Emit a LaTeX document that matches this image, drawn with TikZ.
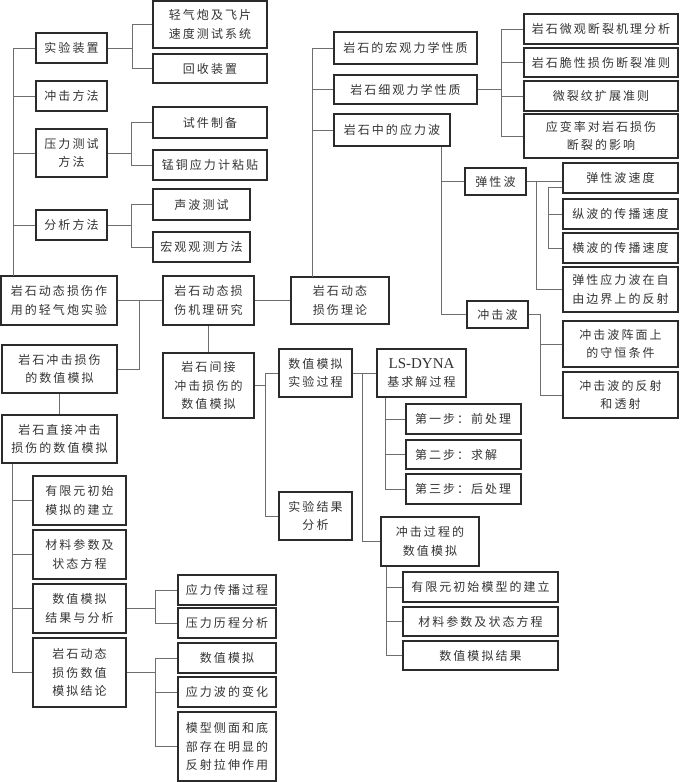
\documentclass[tikz,border=0pt]{standalone}
\usepackage{fontspec}
\setmainfont{Noto Sans CJK SC}[LetterSpace=17]
\newfontfamily\lsfont{Liberation Serif}
\usetikzlibrary{calc}
\definecolor{boxc}{HTML}{2B2B2B}
\definecolor{linec}{HTML}{6E6E6E}
\definecolor{txtc}{HTML}{333333}
\tikzset{
 bx/.style={draw=boxc, line width=1.1pt, inner sep=0pt, align=center, text=txtc,
   font=\fontsize{12}{18.5}\selectfont},
 lbx/.style={bx, text width=97pt, align=left},
 conn/.style={draw=linec, line width=1pt},
}
\begin{document}
\begin{tikzpicture}[x=1pt,y=-1pt]
\useasboundingbox (0,0) rectangle (680,782);
% ---------- left top ----------
\node[bx, minimum width=71pt, minimum height=30pt] (A1) at (71.5,48) {实验装置};
\node[bx, minimum width=114pt, minimum height=47pt] (A1a) at (210,24.5) {轻气炮及飞片\\速度测试系统};
\node[bx, minimum width=114pt, minimum height=29pt] (A1b) at (210,68.5) {回收装置};
\node[bx, minimum width=71pt, minimum height=30pt] (A2) at (71.5,96) {冲击方法};
\node[bx, minimum width=71pt, minimum height=48pt] (A3) at (71.5,153) {压力测试\\方法};
\node[bx, minimum width=114pt, minimum height=31pt] (A3a) at (210,122.5) {试件制备};
\node[bx, minimum width=114pt, minimum height=30pt] (A3b) at (210,165) {锰铜应力计粘贴};
\node[bx, minimum width=71pt, minimum height=30pt] (A4) at (71.5,225) {分析方法};
\node[bx, minimum width=97pt, minimum height=31pt] (A4a) at (201.5,204.5) {声波测试};
\node[bx, minimum width=97pt, minimum height=30pt] (A4b) at (201.5,247) {宏观观测方法};
% ---------- middle row ----------
\node[bx, minimum width=116pt, minimum height=49pt] (L1) at (59,300.5) {岩石动态损伤作\\用的轻气炮实验};
\node[bx, minimum width=91pt, minimum height=49pt] (C) at (208.5,300.5) {岩石动态损\\伤机理研究};
\node[bx, minimum width=98pt, minimum height=47pt] (T) at (340,300.5) {岩石动态\\损伤理论};
\node[bx, minimum width=115pt, minimum height=48pt] (L2) at (59.5,369) {岩石冲击损伤\\的数值模拟};
\node[bx, minimum width=115pt, minimum height=48pt] (L3) at (59.5,439) {岩石直接冲击\\损伤的数值模拟};
\node[bx, minimum width=91pt, minimum height=65pt] (CI) at (208.5,385.5) {岩石间接\\冲击损伤的\\数值模拟};
\node[bx, minimum width=73pt, minimum height=48pt] (N1) at (315.5,373) {数值模拟\\实验过程};
\node[bx, minimum width=73pt, minimum height=48pt] (N2) at (315.5,516) {实验结果\\分析};
\node[bx, minimum width=89pt, minimum height=48pt] (LS) at (421.5,373) {{\lsfont\fontsize{15}{18}\selectfont LS-DYNA}\\基求解过程};
\node[lbx, minimum width=115pt, minimum height=30pt] (S1) at (463.5,419) {第一步：前处理};
\node[lbx, minimum width=115pt, minimum height=29pt] (S2) at (463.5,454.5) {第二步：求解};
\node[lbx, minimum width=115pt, minimum height=30pt] (S3) at (463.5,489) {第三步：后处理};
\node[bx, minimum width=98pt, minimum height=49pt] (P) at (430,541.5) {冲击过程的\\数值模拟};
\node[bx, minimum width=155pt, minimum height=30pt] (P1) at (480.5,587) {有限元初始模型的建立};
\node[bx, minimum width=155pt, minimum height=29pt] (P2) at (480.5,621.5) {材料参数及状态方程};
\node[bx, minimum width=155pt, minimum height=29pt] (P3) at (480.5,655.5) {数值模拟结果};
% ---------- bottom left ----------
\node[bx, minimum width=93pt, minimum height=49pt] (D1) at (79.5,500.5) {有限元初始\\模拟的建立};
\node[bx, minimum width=93pt, minimum height=49pt] (D2) at (79.5,554.5) {材料参数及\\状态方程};
\node[bx, minimum width=93pt, minimum height=49pt] (D3) at (79.5,608.5) {数值模拟\\结果与分析};
\node[bx, minimum width=93pt, minimum height=69pt] (D4) at (79.5,672.5) {岩石动态\\损伤数值\\模拟结论};
\node[bx, minimum width=98pt, minimum height=30pt] (D3a) at (227,590) {应力传播过程};
\node[bx, minimum width=98pt, minimum height=30pt] (D3b) at (227,623) {压力历程分析};
\node[bx, minimum width=98pt, minimum height=30pt] (D4a) at (227,658) {数值模拟};
\node[bx, minimum width=98pt, minimum height=30pt] (D4b) at (227,692) {应力波的变化};
\node[bx, minimum width=98pt, minimum height=69pt] (D4c) at (227,746.5) {模型侧面和底\\部存在明显的\\反射拉伸作用};
% ---------- right top ----------
\node[bx, minimum width=143pt, minimum height=32pt] (R1) at (405.5,48) {岩石的宏观力学性质};
\node[bx, minimum width=143pt, minimum height=29pt] (R2) at (405.5,89.5) {岩石细观力学性质};
\node[bx, minimum width=116pt, minimum height=32pt] (R3) at (392,130) {岩石中的应力波};
\node[bx, minimum width=154pt, minimum height=30pt] (R2a) at (601,29) {岩石微观断裂机理分析};
\node[bx, minimum width=154pt, minimum height=29pt] (R2b) at (601,62.5) {岩石脆性损伤断裂准则};
\node[bx, minimum width=154pt, minimum height=30pt] (R2c) at (601,96) {微裂纹扩展准则};
\node[bx, minimum width=154pt, minimum height=44pt] (R2d) at (601,136) {应变率对岩石损伤\\断裂的影响};
\node[bx, minimum width=61pt, minimum height=27pt] (E) at (495.5,181.5) {弹性波};
\node[bx, minimum width=115pt, minimum height=30pt] (E1) at (620.5,178) {弹性波速度};
\node[bx, minimum width=115pt, minimum height=30pt] (E2) at (620.5,214) {纵波的传播速度};
\node[bx, minimum width=115pt, minimum height=30pt] (E3) at (620.5,248) {横波的传播速度};
\node[bx, minimum width=115pt, minimum height=45pt] (E4) at (620.5,289.5) {弹性应力波在自\\由边界上的反射};
\node[bx, minimum width=61pt, minimum height=27pt] (SW) at (497.5,314.5) {冲击波};
\node[bx, minimum width=115pt, minimum height=46pt] (SW1) at (620.5,344) {冲击波阵面上\\的守恒条件};
\node[bx, minimum width=115pt, minimum height=46pt] (SW2) at (620.5,395) {冲击波的反射\\和透射};
% ---------- elbow coordinates ----------
\coordinate (lt) at (13,276);
\coordinate (ka) at (132,0);
\coordinate (kb) at (131,0);
\coordinate (rt) at (312,277);
\coordinate (xr2) at (501,0);
\coordinate (xr3) at (441,0);
\coordinate (xe) at (536,0);
\coordinate (xe1) at (548,0);
\coordinate (xs) at (540,0);
\coordinate (xc) at (139,0);
\coordinate (xd) at (12,0);
\coordinate (xd3) at (155,0);
\coordinate (xci) at (265,0);
\coordinate (xn) at (362,0);
\coordinate (xls) at (385,0);
\coordinate (xp) at (386,0);
% ---------- connectors ----------
\draw[conn] (A1.west) -| (lt);
\draw[conn] (A2.west) -- (A2.west -| lt);
\draw[conn] (A3.west) -- (A3.west -| lt);
\draw[conn] (A4.west) -- (A4.west -| lt);
\draw[conn] (A1.east) -- (A1.east -| ka);
\draw[conn] (A1a.west) -| (A1b.west -| ka) -- (A1b.west);
\draw[conn] (A3.east) -- (A3.east -| kb);
\draw[conn] (A3a.west) -| (A3b.west -| kb) -- (A3b.west);
\draw[conn] (A4.east) -- (A4.east -| kb);
\draw[conn] (A4a.west) -| (A4b.west -| kb) -- (A4b.west);
\draw[conn] (R1.west) -| (rt);
\draw[conn] (R2.west) -- (R2.west -| rt);
\draw[conn] (R3.west) -- (R3.west -| rt);
\draw[conn] (R2.east) -- (R2.east -| xr2);
\draw[conn] (R2a.west) -| (R2d.west -| xr2) -- (R2d.west);
\draw[conn] (R2b.west) -- (R2b.west -| xr2);
\draw[conn] (R2c.west) -- (R2c.west -| xr2);
\draw[conn] (R3.south -| xr3) |- (SW.west);
\draw[conn] (E.west) -- (E.west -| xr3);
\draw[conn] (E.east) -- (E1.west |- E.east);
\draw[conn] (E.east -| xe) |- (E4.west);
\draw[conn] ([yshift=-9pt]E1.west) -| (E3.west -| xe1) -- (E3.west);
\draw[conn] (E2.west) -- (E2.west -| xe1);
\draw[conn] (SW.east) -| (SW2.west -| xs) -- (SW2.west);
\draw[conn] (SW1.west) -- (SW1.west -| xs);
\draw[conn] (C.east) -- (T.west);
\draw[conn] (C.west) -- (C.west -| xc);
\draw[conn] (L1.east) -| (L2.east -| xc) -- (L2.east);
\draw[conn] (L2.south) -- (L3.north);
\draw[conn] (C.south) -- (CI.north);
\draw[conn] (L3.south -| xd) |- (D4.west);
\draw[conn] (D1.west) -- (D1.west -| xd);
\draw[conn] (D2.west) -- (D2.west -| xd);
\draw[conn] (D3.west) -- (D3.west -| xd);
\draw[conn] (D3.east) -- (D3.east -| xd3);
\draw[conn] (D3a.west) -| (D3b.west -| xd3) -- (D3b.west);
\draw[conn] (D4.east) -- (D4.east -| xd3);
\draw[conn] (D4a.west) -| (D4c.west -| xd3) -- (D4c.west);
\draw[conn] (D4b.west) -- (D4b.west -| xd3);
\draw[conn] (CI.east) -- (CI.east -| xci);
\draw[conn] (N1.west) -| (N2.west -| xci) -- (N2.west);
\draw[conn] (N1.east) -- (LS.west);
\draw[conn] (N1.east -| xn) |- (P.west);
\draw[conn] (LS.south -| xls) |- (S3.west);
\draw[conn] (S1.west) -- (S1.west -| xls);
\draw[conn] (S2.west) -- (S2.west -| xls);
\draw[conn] (P.south -| xp) |- (P3.west);
\draw[conn] (P1.west) -- (P1.west -| xp);
\draw[conn] (P2.west) -- (P2.west -| xp);
\end{tikzpicture}
\end{document}
